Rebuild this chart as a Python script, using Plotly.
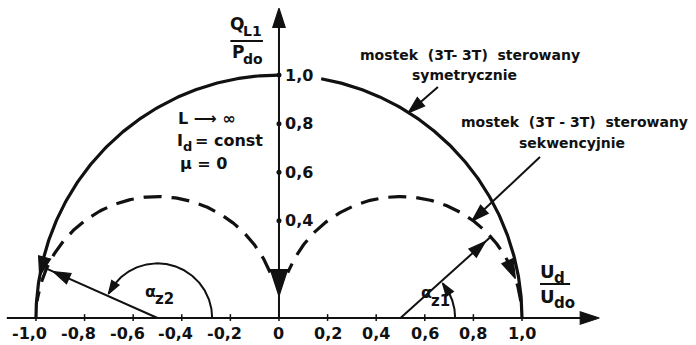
import numpy as np
import plotly.graph_objects as go

# --- values ---------------------------------------------------------------
x_ticks = [-1.0, -0.8, -0.6, -0.4, -0.2, 0.0, 0.2, 0.4, 0.6, 0.8, 1.0]
x_tick_labels = ["-1,0", "-0,8", "-0,6", "-0,4", "-0,2", "0", "0,2", "0,4", "0,6", "0,8", "1,0"]
y_ticks = [0.4, 0.6, 0.8, 1.0]
y_tick_labels = ["0,4", "0,6", "0,8", "1,0"]

# symmetric control: unit semicircle centred at the origin
sym_center = [0.0, 0.0]
sym_radius = 1.0
sym_gap_deg = [80, 90]          # break in the arc where the "1,0" label sits

# sequential control: two half-radius semicircles
seq_centers = [-0.5, 0.5]
seq_radius = 0.5

# firing angles drawn on the diagram (degrees)
alpha_z1 = 42
alpha_z2 = 156
alpha_arc_radius = 0.225

FONT = "DejaVu Sans"
INK = "#111111"


def arc(cx, cy, r, a0, a1, n=200):
    t = np.radians(np.linspace(a0, a1, n))
    return cx + r * np.cos(t), cy + r * np.sin(t)


def pol(cx, cy, r, a):
    t = np.radians(a)
    return cx + r * np.cos(t), cy + r * np.sin(t)


fig = go.Figure()

# big solid semicircle (two pieces around the label gap)
for a0, a1 in [(0, sym_gap_deg[0]), (sym_gap_deg[1], 180)]:
    xs, ys = arc(sym_center[0], sym_center[1], sym_radius, a0, a1)
    fig.add_trace(go.Scatter(x=xs, y=ys, mode="lines",
                             line=dict(color=INK, width=3.2), hoverinfo="skip"))

# dashed half-radius semicircles
for cx in seq_centers:
    a0, a1 = (8, 158) if cx > 0 else (22, 172)
    xs, ys = arc(cx, 0, seq_radius, a0, a1)
    fig.add_trace(go.Scatter(x=xs, y=ys, mode="lines",
                             line=dict(color=INK, width=3.2, dash="18px,10px"),
                             hoverinfo="skip"))

# firing-angle arcs
for cx, a in [(seq_centers[1], alpha_z1), (seq_centers[0], alpha_z2)]:
    xs, ys = arc(cx, 0, alpha_arc_radius, 0, a - 3)
    fig.add_trace(go.Scatter(x=xs, y=ys, mode="lines",
                             line=dict(color=INK, width=2), hoverinfo="skip"))

# y-axis tick dots
fig.add_trace(go.Scatter(x=[0] * len(y_ticks), y=y_ticks, mode="markers",
                         marker=dict(color=INK, size=5), hoverinfo="skip"))

shapes = []
# axes
shapes.append(dict(type="line", x0=-1.12, y0=0, x1=1.29, y1=0,
                   line=dict(color=INK, width=2)))
shapes.append(dict(type="line", x0=0, y0=0, x1=0, y1=1.24,
                   line=dict(color=INK, width=2)))
# x ticks
for xv in x_ticks:
    shapes.append(dict(type="line", x0=xv, y0=-0.012, x1=xv, y1=0.016,
                       line=dict(color=INK, width=1.5)))
# fraction bars of the axis titles
shapes.append(dict(type="line", x0=-0.2, y0=1.14, x1=-0.066, y1=1.14,
                   line=dict(color=INK, width=2)))
shapes.append(dict(type="line", x0=1.074, y0=0.14, x1=1.198, y1=0.14,
                   line=dict(color=INK, width=2)))
# radius lines of the firing angles
for cx, a in [(seq_centers[1], alpha_z1), (seq_centers[0], alpha_z2)]:
    ex, ey = pol(cx, 0, seq_radius, a)
    shapes.append(dict(type="line", x0=cx, y0=0, x1=ex, y1=ey,
                       line=dict(color=INK, width=2)))

# arrowheads: collected and drawn as rotated "arrow" markers
head_x, head_y, head_ang, head_size = [], [], [], []


def arrow(hx, hy, tx, ty, size=12, width=2, shaft=True):
    if shaft:
        shapes.append(dict(type="line", x0=tx, y0=ty, x1=hx, y1=hy,
                           line=dict(color=INK, width=width)))
    head_x.append(hx)
    head_y.append(hy)
    head_ang.append(float(np.degrees(np.arctan2(hx - tx, hy - ty))))
    head_size.append(size)


ann = []


def label(x, y, text, size=14, xanchor="center", yanchor="middle"):
    ann.append(dict(x=x, y=y, xref="x", yref="y", text=text, showarrow=False,
                    xanchor=xanchor, yanchor=yanchor, borderpad=0, borderwidth=0,
                    font=dict(family=FONT, size=size, color=INK)))


def sub_label(x, y_main, y_sub, main, sub, size=17, sub_size=14):
    # main symbol ends at x, its index starts right there, slightly lower
    label(x, y_main, "<b>" + main + "</b>", size=size, xanchor="right")
    label(x - 0.004, y_sub, "<b>" + sub + "</b>", size=sub_size, xanchor="left")


# axis arrowheads
arrow(1.318, 0, 1.2, 0, size=20, shaft=False)
arrow(0, 1.275, 0, 1.16, size=20, shaft=False)

# direction arrows on the curves
arrow(0, 0.09, 0, 0.17, size=28, shaft=False)
hx, hy = pol(seq_centers[1], 0, seq_radius, 19)
tx, ty = pol(seq_centers[1], 0, seq_radius, 30)
arrow(hx, hy, tx, ty, size=20, shaft=False)
hx, hy = pol(sym_center[0], 0, sym_radius, 170)
tx, ty = pol(sym_center[0], 0, sym_radius, 160)
arrow(hx, hy, tx, ty, size=20, shaft=False)

# arrows on the firing-angle radii and arcs
for cx, a in [(seq_centers[1], alpha_z1), (seq_centers[0], alpha_z2)]:
    hx, hy = pol(cx, 0, 0.47, a)
    tx, ty = pol(cx, 0, 0.36, a)
    arrow(hx, hy, tx, ty, size=18, shaft=False)
    hx, hy = pol(cx, 0, alpha_arc_radius, a - 2)
    tx, ty = pol(cx, 0, alpha_arc_radius, a - 14)
    arrow(hx, hy, tx, ty, size=14, shaft=False)

# leader arrows to the curves
arrow(0.531, 0.844, 0.654, 0.951, size=18)
arrow(0.794, 0.399, 1.074, 0.663, size=18)

fig.add_trace(go.Scatter(
    x=head_x, y=head_y, mode="markers", hoverinfo="skip",
    marker=dict(symbol="arrow", angle=head_ang, size=head_size, color=INK,
                opacity=1, line=dict(width=1.2, color=INK)),
))

# tick labels
for xv, t in zip(x_ticks, x_tick_labels):
    off = -0.025 if xv < 0 else 0.0
    label(xv + off, -0.063, "<b>" + t + "</b>", size=16)
for yv, t in zip(y_ticks, y_tick_labels):
    label(0.025, yv, "<b>" + t + "</b>", size=16, xanchor="left")

# axis titles (fractions)
sub_label(-0.146, 1.212, 1.183, "Q", "L1", size=17, sub_size=14)
sub_label(-0.146, 1.097, 1.068, "P", "do", size=17, sub_size=14)
sub_label(1.136, 0.19, 0.164, "U", "d", size=18, sub_size=15)
sub_label(1.136, 0.087, 0.061, "U", "do", size=18, sub_size=15)

# curve descriptions
label(0.786, 1.082, "<b>mostek  (3T- 3T)  sterowany</b>", size=14)
label(0.765, 1.0, "<b>symetrycznie</b>", size=14)
label(1.214, 0.807, "<b>mostek  (3T - 3T)  sterowany</b>", size=14)
label(1.206, 0.72, "<b>sekwencyjnie</b>", size=14)

# operating conditions
label(-0.416, 0.823, "<b>L ⟶ ∞</b>", size=16, xanchor="left")
sub_label(-0.393, 0.731, 0.706, "I", "d", size=16, sub_size=13)
label(-0.345, 0.731, "<b>= const</b>", size=16, xanchor="left")
label(-0.407, 0.638, "<b>μ = 0</b>", size=16, xanchor="left")

# firing-angle names
sub_label(-0.505, 0.108, 0.078, "α", "z2", size=16, sub_size=15)
sub_label(0.63, 0.105, 0.07, "α", "z1", size=16, sub_size=15)

fig.update_layout(
    width=696, height=345,
    margin=dict(l=0, r=0, t=0, b=0),
    paper_bgcolor="white", plot_bgcolor="white",
    showlegend=False,
    shapes=shapes, annotations=ann,
    xaxis=dict(range=[-1.148, 1.716], visible=False, fixedrange=True),
    yaxis=dict(range=[-0.111, 1.309], visible=False, fixedrange=True),
)

fig.write_html("out.html")
